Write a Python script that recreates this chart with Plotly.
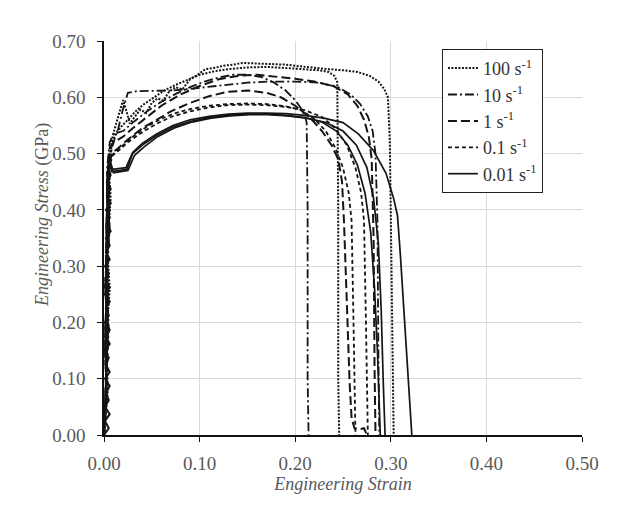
import plotly.graph_objects as go

# ---- data ----
rate_labels = ["100 s<sup>-1</sup>", "10 s<sup>-1</sup>", "1 s<sup>-1</sup>", "0.1 s<sup>-1</sup>", "0.01 s<sup>-1</sup>"]

strain_100_a = [0.000, 0.004, 0.002, 0.006, 0.003, 0.007, 0.005, 0.009, 0.013, 0.017, 0.020, 0.024, 0.027, 0.032, 0.038, 0.044, 0.050, 0.056, 0.062, 0.068, 0.075, 0.082, 0.090, 0.098, 0.106, 0.115, 0.125, 0.135, 0.145, 0.160, 0.175, 0.190, 0.205, 0.220, 0.235, 0.250, 0.265, 0.278, 0.287, 0.293, 0.297, 0.299, 0.300, 0.301, 0.302, 0.303]
stress_100_a = [0.000, 0.080, 0.170, 0.260, 0.340, 0.420, 0.480, 0.530, 0.555, 0.580, 0.595, 0.572, 0.553, 0.565, 0.578, 0.572, 0.590, 0.598, 0.594, 0.610, 0.618, 0.614, 0.632, 0.640, 0.650, 0.652, 0.656, 0.658, 0.661, 0.660, 0.659, 0.658, 0.655, 0.652, 0.650, 0.648, 0.645, 0.638, 0.628, 0.615, 0.600, 0.520, 0.400, 0.250, 0.080, 0.000]

strain_100_b = [0.000, 0.003, 0.001, 0.005, 0.002, 0.006, 0.004, 0.008, 0.012, 0.018, 0.025, 0.033, 0.042, 0.052, 0.063, 0.075, 0.088, 0.100, 0.115, 0.130, 0.150, 0.170, 0.190, 0.210, 0.225, 0.235, 0.241, 0.244, 0.245, 0.245, 0.246]
stress_100_b = [0.000, 0.070, 0.150, 0.240, 0.320, 0.400, 0.470, 0.515, 0.535, 0.548, 0.560, 0.575, 0.588, 0.600, 0.612, 0.622, 0.632, 0.640, 0.646, 0.650, 0.653, 0.654, 0.652, 0.650, 0.648, 0.645, 0.638, 0.627, 0.400, 0.100, 0.000]

strain_10_a = [0.000, 0.002, 0.005, 0.003, 0.006, 0.004, 0.007, 0.010, 0.015, 0.020, 0.025, 0.035, 0.050, 0.070, 0.090, 0.110, 0.130, 0.150, 0.175, 0.200, 0.225, 0.245, 0.258, 0.268, 0.276, 0.281, 0.284, 0.286, 0.287, 0.288]
stress_10_a = [0.000, 0.090, 0.190, 0.280, 0.370, 0.450, 0.500, 0.520, 0.545, 0.580, 0.608, 0.611, 0.611, 0.612, 0.615, 0.619, 0.623, 0.626, 0.628, 0.628, 0.626, 0.618, 0.605, 0.588, 0.566, 0.540, 0.500, 0.380, 0.150, 0.000]

strain_10_b = [0.000, 0.003, 0.001, 0.004, 0.002, 0.005, 0.003, 0.006, 0.010, 0.020, 0.030, 0.045, 0.060, 0.075, 0.090, 0.105, 0.120, 0.135, 0.150, 0.165, 0.178, 0.190, 0.200, 0.207, 0.211, 0.212, 0.213, 0.213, 0.214]
stress_10_b = [0.000, 0.080, 0.160, 0.250, 0.330, 0.410, 0.470, 0.520, 0.535, 0.540, 0.555, 0.575, 0.592, 0.606, 0.618, 0.628, 0.635, 0.640, 0.640, 0.636, 0.626, 0.612, 0.595, 0.578, 0.562, 0.555, 0.400, 0.100, 0.000]

strain_1_a = [0.000, 0.002, 0.004, 0.002, 0.005, 0.003, 0.006, 0.010, 0.020, 0.030, 0.045, 0.060, 0.080, 0.100, 0.120, 0.140, 0.160, 0.180, 0.200, 0.220, 0.240, 0.255, 0.265, 0.272, 0.277, 0.280, 0.282, 0.283, 0.284]
stress_1_a = [0.000, 0.100, 0.200, 0.290, 0.380, 0.450, 0.510, 0.520, 0.530, 0.545, 0.565, 0.585, 0.605, 0.620, 0.632, 0.638, 0.640, 0.637, 0.633, 0.628, 0.620, 0.605, 0.585, 0.560, 0.530, 0.490, 0.350, 0.120, 0.000]

strain_1_b = [0.000, 0.003, 0.001, 0.004, 0.002, 0.005, 0.004, 0.008, 0.015, 0.025, 0.040, 0.055, 0.070, 0.090, 0.110, 0.130, 0.150, 0.170, 0.185, 0.200, 0.215, 0.228, 0.238, 0.245, 0.249, 0.251, 0.253, 0.255, 0.257, 0.259, 0.262, 0.267, 0.272, 0.275]
stress_1_b = [0.000, 0.070, 0.150, 0.230, 0.310, 0.390, 0.460, 0.500, 0.510, 0.525, 0.545, 0.560, 0.575, 0.590, 0.602, 0.610, 0.612, 0.608, 0.600, 0.585, 0.565, 0.540, 0.515, 0.490, 0.450, 0.380, 0.280, 0.180, 0.090, 0.030, 0.012, 0.010, 0.012, 0.000]

strain_01_a = [0.000, 0.002, 0.004, 0.001, 0.005, 0.003, 0.006, 0.010, 0.020, 0.030, 0.045, 0.060, 0.075, 0.090, 0.110, 0.130, 0.150, 0.170, 0.190, 0.205, 0.220, 0.232, 0.242, 0.250, 0.256, 0.259, 0.261, 0.262, 0.263]
stress_01_a = [0.000, 0.090, 0.180, 0.270, 0.350, 0.430, 0.490, 0.500, 0.515, 0.530, 0.548, 0.562, 0.572, 0.579, 0.585, 0.588, 0.589, 0.588, 0.584, 0.578, 0.562, 0.540, 0.510, 0.475, 0.430, 0.380, 0.200, 0.050, 0.000]

strain_01_b = [0.000, 0.003, 0.001, 0.004, 0.002, 0.006, 0.004, 0.008, 0.015, 0.025, 0.040, 0.055, 0.070, 0.090, 0.110, 0.130, 0.150, 0.170, 0.190, 0.210, 0.228, 0.242, 0.254, 0.263, 0.269, 0.272, 0.274, 0.275, 0.276]
stress_01_b = [0.000, 0.080, 0.170, 0.250, 0.330, 0.410, 0.470, 0.495, 0.505, 0.520, 0.538, 0.553, 0.565, 0.575, 0.582, 0.586, 0.587, 0.586, 0.583, 0.577, 0.565, 0.545, 0.515, 0.475, 0.430, 0.380, 0.200, 0.040, 0.000]

strain_001_a = [0.000, 0.002, 0.004, 0.002, 0.005, 0.003, 0.005, 0.008, 0.015, 0.024, 0.030, 0.040, 0.055, 0.072, 0.090, 0.110, 0.130, 0.150, 0.170, 0.190, 0.210, 0.228, 0.243, 0.255, 0.265, 0.273, 0.279, 0.283, 0.286, 0.288, 0.289]
stress_001_a = [0.000, 0.100, 0.200, 0.300, 0.380, 0.440, 0.500, 0.468, 0.470, 0.472, 0.500, 0.515, 0.532, 0.547, 0.557, 0.564, 0.568, 0.570, 0.570, 0.568, 0.564, 0.556, 0.540, 0.515, 0.480, 0.430, 0.360, 0.260, 0.150, 0.050, 0.000]

strain_001_b = [0.000, 0.003, 0.001, 0.004, 0.002, 0.005, 0.006, 0.010, 0.018, 0.025, 0.032, 0.042, 0.056, 0.073, 0.092, 0.112, 0.132, 0.152, 0.172, 0.192, 0.212, 0.232, 0.250, 0.264, 0.275, 0.282, 0.287, 0.290, 0.292, 0.294]
stress_001_b = [0.000, 0.090, 0.190, 0.280, 0.370, 0.450, 0.480, 0.466, 0.468, 0.470, 0.497, 0.512, 0.530, 0.545, 0.556, 0.563, 0.567, 0.569, 0.569, 0.567, 0.563, 0.555, 0.540, 0.515, 0.475, 0.420, 0.340, 0.220, 0.100, 0.000]

strain_001_c = [0.000, 0.002, 0.004, 0.001, 0.005, 0.003, 0.006, 0.009, 0.016, 0.023, 0.030, 0.040, 0.055, 0.072, 0.090, 0.110, 0.130, 0.150, 0.170, 0.190, 0.210, 0.230, 0.250, 0.266, 0.282, 0.295, 0.303, 0.307, 0.310, 0.313, 0.316, 0.319, 0.321, 0.322]
stress_001_c = [0.000, 0.085, 0.175, 0.265, 0.355, 0.430, 0.490, 0.472, 0.474, 0.475, 0.502, 0.518, 0.535, 0.550, 0.560, 0.566, 0.570, 0.572, 0.572, 0.571, 0.568, 0.563, 0.555, 0.535, 0.505, 0.465, 0.420, 0.390, 0.320, 0.240, 0.150, 0.070, 0.020, 0.000]

# noisy elastic band near zero strain (hand-read zigzag, dense)
strain_elastic = [0.000, 0.005, 0.001, 0.006, 0.001, 0.005, 0.002, 0.006, 0.001, 0.006, 0.002, 0.005, 0.001, 0.006, 0.002, 0.006, 0.001, 0.005, 0.002, 0.006,
                  0.001, 0.006, 0.002, 0.005, 0.001, 0.006, 0.002, 0.006, 0.002, 0.007, 0.003, 0.006, 0.002, 0.007, 0.003, 0.007, 0.004, 0.007, 0.004, 0.008]
stress_elastic = [0.000, 0.012, 0.025, 0.037, 0.050, 0.062, 0.075, 0.087, 0.100, 0.112, 0.125, 0.137, 0.150, 0.162, 0.175, 0.187, 0.200, 0.212, 0.225, 0.237,
                  0.250, 0.262, 0.275, 0.287, 0.300, 0.312, 0.325, 0.337, 0.350, 0.362, 0.375, 0.387, 0.400, 0.412, 0.425, 0.437, 0.450, 0.462, 0.475, 0.490]

x_ticks = [0.0, 0.1, 0.2, 0.3, 0.4, 0.5]
y_ticks = [0.0, 0.1, 0.2, 0.3, 0.4, 0.5, 0.6, 0.7]

groups = [
    (rate_labels[0], [(strain_100_a, stress_100_a), (strain_100_b, stress_100_b)], "2px,1.5px", 2.0),
    (rate_labels[1], [(strain_10_a, stress_10_a), (strain_10_b, stress_10_b)], "9px,3px,2px,3px", 1.8),
    (rate_labels[2], [(strain_1_a, stress_1_a), (strain_1_b, stress_1_b)], "9px,4px", 2.0),
    (rate_labels[3], [(strain_01_a, stress_01_a), (strain_01_b, stress_01_b)], "4px,3px", 1.8),
    (rate_labels[4], [(strain_001_a, stress_001_a), (strain_001_b, stress_001_b), (strain_001_c, stress_001_c)], "solid", 1.7),
]

LINE = "#151515"
GRAY = "#595959"
FONT = "Liberation Serif"

fig = go.Figure()
fig.add_trace(go.Scatter(x=strain_elastic, y=stress_elastic, mode="lines", showlegend=False,
                         line=dict(color=LINE, width=2.0)))
for label, curves, dash, width in groups:
    for i, (xs, ys) in enumerate(curves):
        fig.add_trace(go.Scatter(
            x=xs, y=ys, mode="lines", name=label, legendgroup=label,
            showlegend=(i == 0),
            line=dict(color=LINE, width=width, dash=dash),
        ))

fig.update_layout(
    width=627, height=521,
    margin=dict(l=104, r=45, t=41, b=86),
    paper_bgcolor="white", plot_bgcolor="white",
    font=dict(family=FONT, color=GRAY, size=18),
    legend=dict(
        x=0.707, y=0.98, xanchor="left", yanchor="top",
        bordercolor="#222222", borderwidth=1, bgcolor="white",
        font=dict(family=FONT, size=18, color="#333333"),
        tracegroupgap=0, traceorder="normal",
        itemwidth=30,
    ),
    annotations=[dict(
        text="<i>Engineering Stress</i> (GPa)", textangle=-90,
        xref="paper", yref="paper", x=-0.13, y=0.558,
        xanchor="center", yanchor="middle", showarrow=False,
        font=dict(family=FONT, size=18, color=GRAY),
    )],
)
fig.update_xaxes(
    range=[0, 0.5], tickvals=x_ticks, tickformat=".2f",
    showgrid=True, gridcolor="#d9d9d9", gridwidth=1,
    showline=True, linecolor="#111111", linewidth=1.5,
    ticks="outside", ticklen=5, tickcolor="#111111", ticklabelstandoff=5,
    tickfont=dict(family=FONT, size=19, color=GRAY),
    zeroline=False,
    title=dict(text="<i>Engineering Strain</i>", font=dict(family=FONT, size=18, color=GRAY), standoff=3),
)
fig.update_yaxes(
    range=[0, 0.7], tickvals=y_ticks, tickformat=".2f",
    showgrid=True, gridcolor="#d9d9d9", gridwidth=1,
    showline=True, linecolor="#111111", linewidth=1.5,
    ticks="outside", ticklen=5, tickcolor="#111111", ticklabelstandoff=8,
    tickfont=dict(family=FONT, size=19, color=GRAY),
    zeroline=False,
)

fig.write_html("out.html")
